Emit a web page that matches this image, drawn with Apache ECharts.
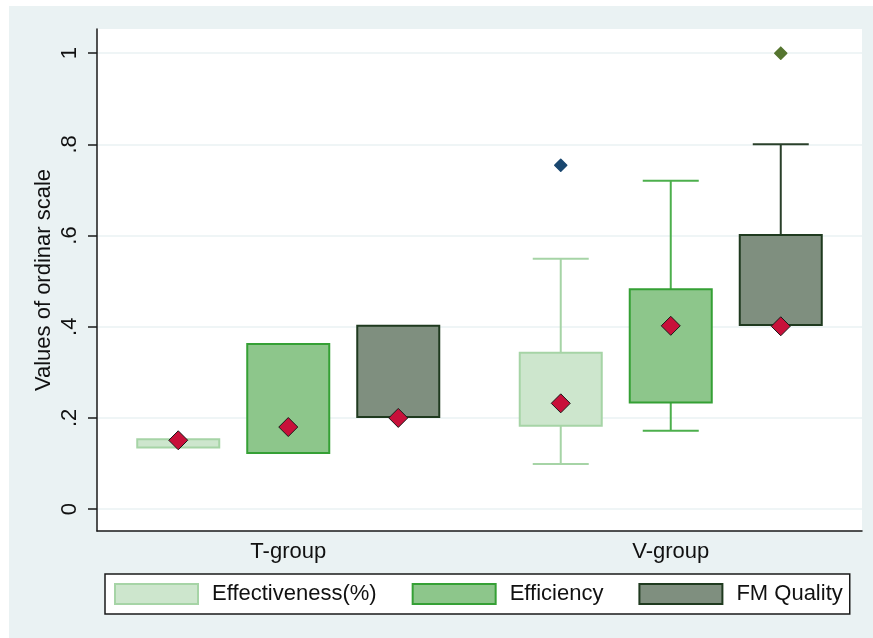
<!DOCTYPE html>
<html><head><meta charset="utf-8">
<script src="https://cdn.jsdelivr.net/npm/echarts@6/dist/echarts.min.js"></script>
<style>
html,body{margin:0;padding:0;background:#fff;}
#chart{position:absolute;left:9px;top:6px;width:864px;height:632px;}
</style></head><body><div id="chart"></div>
<script>
const categories = ['T-group', 'V-group'];
const measures = ['Effectiveness(%)', 'Efficiency', 'FM Quality'];
// per measure: [T-group, V-group]
const boxLow = [[0.135, 0.183], [0.123, 0.234], [0.202, 0.404]];
const boxHigh = [[0.153, 0.343], [0.362, 0.482], [0.402, 0.601]];
const whiskerLow = [[null, 0.099], [null, 0.172], [null, null]];
const whiskerHigh = [[null, 0.549], [null, 0.720], [null, 0.800]];
const markerVals = [[0.151, 0.232], [0.180, 0.402], [0.200, 0.401]];
const outlierVals = [[null, 0.754], [null, null], [null, 1.000]];
const yTicks = [0, 0.2, 0.4, 0.6, 0.8, 1];
const yTickLabels = ['0', '.2', '.4', '.6', '.8', '1'];
const yRange = [-0.048, 1.053];

const fills = ['#CDE6CD', '#8DC68B', '#7F8F7F'];
const borders = ['#A6D4A6', '#35A035', '#1F3A1F'];
const whiskerColors = ['#A6D4A6', '#4CAF4C', '#2A402A'];
const outlierColors = ['#1A476F', '#3BA33B', '#55752F'];
const FONT = 'Liberation Sans, Arial, sans-serif';
const TXT = '#111';

function num(v) { return (v === null || v === undefined) ? NaN : v; }

function makeRender(si) {
  return function (params, api) {
    const cat = api.value(0);
    const band = api.size([1, 0])[0];
    const off = (si - 1) * band * 0.2876;
    const bw = band * 0.2144;
    const cw = band * 0.1464;
    const cx = api.coord([cat, 0])[0] + off;
    const Y = v => api.coord([cat, v])[1];
    const lo = api.value(1), hi = api.value(2), wl = api.value(3), wh = api.value(4), m = api.value(5), o = api.value(6);
    const ls = {stroke: whiskerColors[si], lineWidth: 2};
    const ch = [];
    if (isFinite(wh)) {
      ch.push({type: 'line', shape: {x1: cx, y1: Y(hi), x2: cx, y2: Y(wh)}, style: ls});
      ch.push({type: 'line', shape: {x1: cx - cw / 2, y1: Y(wh), x2: cx + cw / 2, y2: Y(wh)}, style: ls});
    }
    if (isFinite(wl)) {
      ch.push({type: 'line', shape: {x1: cx, y1: Y(lo), x2: cx, y2: Y(wl)}, style: ls});
      ch.push({type: 'line', shape: {x1: cx - cw / 2, y1: Y(wl), x2: cx + cw / 2, y2: Y(wl)}, style: ls});
    }
    ch.push({type: 'rect', shape: {x: cx - bw / 2, y: Y(hi), width: bw, height: Y(lo) - Y(hi)},
      style: {fill: fills[si], stroke: borders[si], lineWidth: 2}});
    if (isFinite(o)) {
      const yo = Y(o), r = 6;
      ch.push({type: 'polygon', shape: {points: [[cx, yo - r], [cx + r, yo], [cx, yo + r], [cx - r, yo]]},
        style: {fill: outlierColors[si], stroke: outlierColors[si], lineWidth: 1.5, lineJoin: 'round'}});
    }
    if (isFinite(m)) {
      const ym = Y(m), r = 9.5;
      ch.push({type: 'polygon', shape: {points: [[cx, ym - r], [cx + r, ym], [cx, ym + r], [cx - r, ym]]},
        style: {fill: '#C8103A', stroke: '#1a1a1a', lineWidth: 1}});
    }
    return {type: 'group', children: ch};
  };
}

const series = measures.map((name, si) => ({
  type: 'custom',
  name: name,
  renderItem: makeRender(si),
  encode: {x: 0, y: 1},
  itemStyle: {color: fills[si], borderColor: borders[si]},
  data: categories.map((c, ci) => [ci, boxLow[si][ci], boxHigh[si][ci], num(whiskerLow[si][ci]),
    num(whiskerHigh[si][ci]), num(markerVals[si][ci]), num(outlierVals[si][ci])])
}));

const chart = echarts.init(document.getElementById('chart'));
chart.setOption({
  backgroundColor: '#EAF2F3',
  animation: false,
  grid: {left: 88, top: 23, right: 11, bottom: 107, show: true, backgroundColor: '#fff', borderWidth: 0},
  xAxis: {
    type: 'category', data: categories, boundaryGap: true,
    axisLine: {show: true, onZero: false, lineStyle: {color: '#1a1a1a', width: 1.5}},
    axisTick: {show: false},
    axisLabel: {fontSize: 22, color: TXT, fontFamily: FONT, margin: 10},
    splitLine: {show: false}
  },
  yAxis: {
    type: 'value', min: yRange[0], max: yRange[1],
    name: 'Values of ordinar scale', nameLocation: 'middle', nameGap: 42, nameRotate: 90,
    nameMoveOverlap: false,
    nameTextStyle: {fontSize: 22, color: TXT, fontFamily: FONT},
    axisLine: {show: true, lineStyle: {color: '#1a1a1a', width: 1.5}},
    axisTick: {show: true, length: 9, customValues: yTicks, lineStyle: {color: '#1a1a1a', width: 1.5}},
    axisLabel: {
      customValues: yTicks, rotate: 90, margin: 16, fontSize: 22, color: TXT, fontFamily: FONT,
      formatter: function (v) {
        const i = yTicks.findIndex(t => Math.abs(t - v) < 1e-6);
        return i >= 0 ? yTickLabels[i] : '';
      }
    },
    splitLine: {show: true, lineStyle: {color: '#EAF2F3', width: 1.5}}
  },
  legend: {
    left: 96, top: 568, orient: 'horizontal',
    padding: [9, 7, 9, 9],
    itemGap: 35, itemWidth: 83, itemHeight: 20,
    backgroundColor: '#fff', borderColor: '#1a1a1a', borderWidth: 1.5,
    selectedMode: false,
    textStyle: {fontSize: 22, color: TXT, fontFamily: FONT, padding: [0, 0, 0, 9], lineHeight: 20},
    data: measures.map((n, i) => ({name: n, icon: 'rect',
      itemStyle: {color: fills[i], borderColor: borders[i], borderWidth: 2}}))
  },
  series: series
});
</script></body></html>
